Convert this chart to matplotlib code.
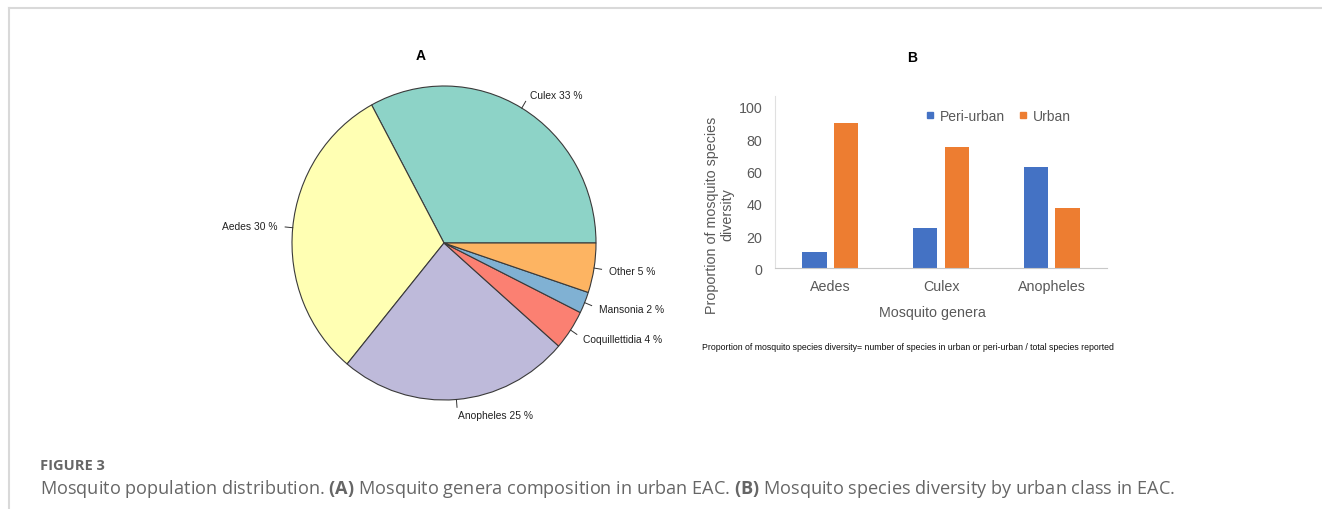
import numpy as np
import matplotlib
matplotlib.use("Agg")
import matplotlib.pyplot as plt
from matplotlib.lines import Line2D

# ---- data ----
genera = ["Culex", "Aedes", "Anopheles", "Coquillettidia", "Mansonia", "Other"]
shares = [32.9, 31.1, 24.6, 4.1, 2.2, 5.1]          # measured slice sizes (%)
pie_labels = ["Culex 33 %", "Aedes 30 %", "Anopheles 25 %",
              "Coquillettidia 4 %", "Mansonia 2 %", "Other 5 %"]
pie_colors = ["#8DD3C7", "#FFFFB3", "#BEBADA", "#FB8072", "#80B1D3", "#FDB462"]

bar_genera = ["Aedes", "Culex", "Anopheles"]
peri_urban = [10, 25, 62.5]
urban = [90, 75, 37.5]

W, H = 1322, 510
plt.rcParams['font.family'] = ['Liberation Sans', 'DejaVu Sans']
plt.rcParams['mathtext.fontset'] = 'custom'
plt.rcParams['mathtext.rm'] = 'Open Sans'
plt.rcParams['mathtext.bf'] = 'Open Sans:bold'

fig = plt.figure(figsize=(W / 100, H / 100), dpi=100)
fig.patch.set_facecolor("white")

# frame lines (top / left)
fig.add_artist(Line2D([9 / W, 1], [1 - 8.5 / H, 1 - 8.5 / H], color="#d9d9d9", lw=1.5))
fig.add_artist(Line2D([9 / W, 9 / W], [0, 1 - 8.5 / H], color="#d9d9d9", lw=1.5))

# ---- A: pie ----
ax1 = fig.add_axes([292 / W, 109 / H, 304 / W, 314 / H])
wedges, _ = ax1.pie(shares, colors=pie_colors, startangle=0, counterclock=True,
                    radius=1, wedgeprops=dict(edgecolor="#3a3a3a", linewidth=0.8))
ax1.set_aspect("auto")
ax1.set_xlim(-1, 1)
ax1.set_ylim(-1, 1)
ax1.axis("off")
for w, lab in zip(wedges, pie_labels):
    a = np.deg2rad((w.theta1 + w.theta2) / 2)
    c, s = np.cos(a), np.sin(a)
    ax1.plot([c, 1.05 * c], [s, 1.05 * s], color="#333333", lw=0.7, clip_on=False)
    ax1.text(1.1 * c, 1.1 * s, lab, ha="left" if c >= 0 else "right", va="center",
             fontsize=7.4, color="#222222", clip_on=False)

fig.text(421 / W, 1 - 56 / H, "A", ha="center", va="center", fontsize=10, fontweight="bold")

# ---- B: bars ----
ax2 = fig.add_axes([775 / W, 240.7 / H, 332 / W, 172.6 / H])
x = np.arange(len(bar_genera))
ax2.bar(x - 0.142, peri_urban, width=0.22, color="#4472C4", label="Peri-urban")
ax2.bar(x + 0.142, urban, width=0.22, color="#ED7D31", label="Urban")
ax2.set_xlim(-0.5, 2.5)
ax2.set_ylim(0, 107)
ax2.set_yticks([0, 20, 40, 60, 80, 100])
ax2.set_xticks(x)
ax2.set_xticklabels(bar_genera)
ax2.tick_params(axis="both", length=0, labelsize=10.3, colors="#595959")
ax2.tick_params(axis="y", pad=9)
ax2.tick_params(axis="x", pad=8)
for sp in ["top", "right"]:
    ax2.spines[sp].set_visible(False)
ax2.spines["left"].set_color("#e0e0e0")
ax2.spines["bottom"].set_color("#c8c8c8")
ax2.spines["left"].set_linewidth(0.8)
ax2.spines["bottom"].set_linewidth(0.8)

handles = [Line2D([], [], marker="s", ls="none", color="#4472C4", markersize=5),
           Line2D([], [], marker="s", ls="none", color="#ED7D31", markersize=5)]
fig.legend(handles, ["Peri-urban", "Urban"], loc="center left",
           bbox_to_anchor=(926 / W, 1 - 116.7 / H), ncol=2, frameon=False,
           fontsize=10, labelcolor="#595959", handlelength=0.6, handletextpad=0.4,
           columnspacing=1.0, borderpad=0, borderaxespad=0)

fig.text(720 / W, 1 - 215 / H, "Proportion of mosquito species\ndiversity",
         rotation=90, ha="center", va="center", fontsize=10.3, color="#595959",
         multialignment="center", linespacing=1.15)
fig.text(932 / W, 1 - 313 / H, "Mosquito genera", ha="center", va="center",
         fontsize=10.3, color="#595959")
fig.text(702 / W, 1 - 348 / H,
         "Proportion of mosquito species diversity= number of species in urban or peri-urban / total species reported",
         ha="left", va="center", fontsize=6.35, color="#111111")
fig.text(912 / W, 1 - 58 / H, "B", ha="center", va="center", fontsize=10, fontweight="bold")

# ---- caption ----
fig.text(40 / W, 1 - 470 / H, "FIGURE 3", ha="left", va="baseline", fontsize=10.5,
         fontweight="bold", color="#666666", family="Open Sans")
fig.text(40 / W, 1 - 494 / H,
         r"Mosquito population distribution. $\mathbf{(A)}$ Mosquito genera composition in urban EAC. "
         r"$\mathbf{(B)}$ Mosquito species diversity by urban class in EAC.",
         ha="left", va="baseline", fontsize=13.1, color="#666666", family="Open Sans")

fig.savefig("out.png", dpi=100)
